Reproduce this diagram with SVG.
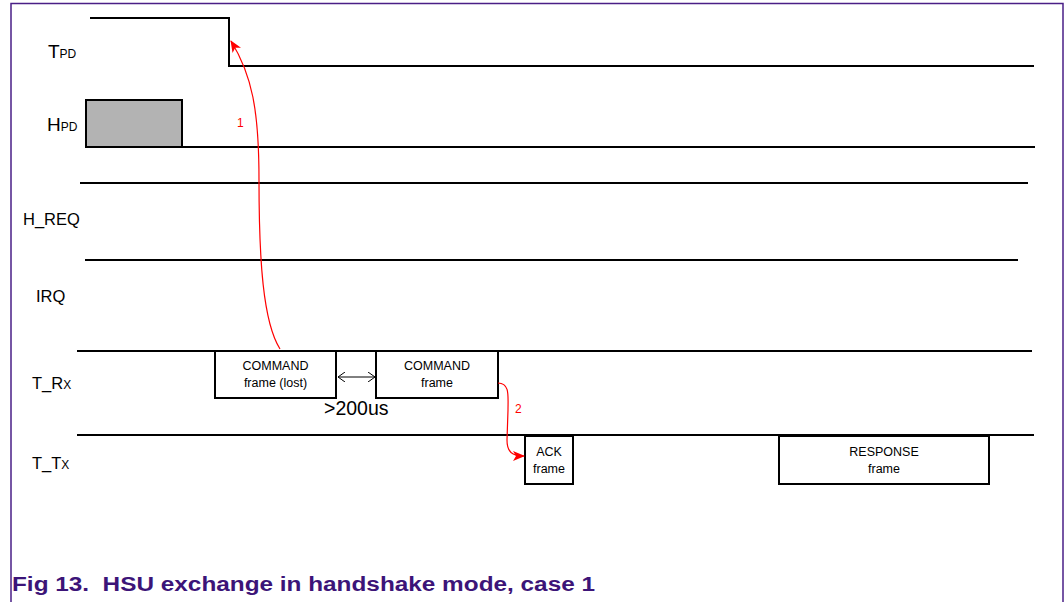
<svg xmlns="http://www.w3.org/2000/svg" width="1064" height="602" viewBox="0 0 1064 602">
<style>
.sig{stroke:#000;stroke-width:2;fill:none}
.box{stroke:#000;stroke-width:2;fill:#fff}
.lbl{font-family:"Liberation Sans",Arial,sans-serif;font-size:16.5px;fill:#000}
.small{font-size:12px}
.bt{font-family:"Liberation Sans",Arial,sans-serif;font-size:12.5px;fill:#000;text-anchor:middle}
.red{stroke:#f00;stroke-width:1.2;fill:none}
.rl{font-family:"Liberation Sans",Arial,sans-serif;font-size:12px;fill:#f00}
</style>
<defs>
<marker id="ra" markerWidth="12" markerHeight="10" refX="11" refY="5" orient="auto" markerUnits="userSpaceOnUse">
<path d="M0,0 L12,5 L0,10 L3,5 Z" fill="#f00"/>
</marker>
<marker id="oa" markerWidth="8" markerHeight="10" refX="7" refY="5" orient="auto" markerUnits="userSpaceOnUse">
<path d="M0,0 L7,5 L0,10" fill="none" stroke="#000" stroke-width="1"/>
</marker>
</defs>
<rect width="1064" height="602" fill="#fff"/>
<path d="M11,602 L11,3.5 L1063,3.5 L1063,602" fill="none" stroke="#4a1f86" stroke-width="1.5"/>

<g id="signals">
<path class="sig" d="M90,18 L229,18 L229,66 L1034,66"/>
<rect x="86" y="100" width="96" height="47" fill="#b3b3b3" stroke="#000" stroke-width="2"/>
<path class="sig" d="M86,147 L1035,147"/>
<path class="sig" d="M80,183 L1028,183"/>
<path class="sig" d="M85,260 L1018,260"/>
<path class="sig" d="M77,351 L1032,351"/>
<path class="sig" d="M77,435 L1034,435"/>
</g>

<g id="labels">
<text class="lbl" x="48" y="58"><tspan font-size="19">T</tspan><tspan class="small" font-size="13">PD</tspan></text>
<text class="lbl" x="47" y="131"><tspan font-size="19">H</tspan><tspan class="small" font-size="13">PD</tspan></text>
<text class="lbl" x="23" y="225">H_REQ</text>
<text class="lbl" x="36" y="302">IRQ</text>
<text class="lbl" x="32" y="389">T_R<tspan class="small">X</tspan></text>
<text class="lbl" x="32" y="469">T_T<tspan class="small">X</tspan></text>
</g>

<g id="cmd-lost">
<rect class="box" x="215" y="351" width="121" height="47"/>
<text class="bt" x="275.5" y="370">COMMAND</text>
<text class="bt" x="275.5" y="387">frame (lost)</text>
</g>
<g id="cmd">
<rect class="box" x="376" y="351" width="122" height="47"/>
<text class="bt" x="437" y="370">COMMAND</text>
<text class="bt" x="437" y="387">frame</text>
</g>
<g id="ack">
<rect class="box" x="525" y="436" width="48" height="48"/>
<text class="bt" x="549" y="456">ACK</text>
<text class="bt" x="549" y="473">frame</text>
</g>
<g id="response">
<rect class="box" x="779" y="436" width="210" height="48"/>
<text class="bt" x="884" y="456">RESPONSE</text>
<text class="bt" x="884" y="473">frame</text>
</g>

<g id="connectors">
<path d="M356,377 L338,377" fill="none" stroke="#000" stroke-width="1" marker-end="url(#oa)"/>
<path d="M356,377 L375,377" fill="none" stroke="#000" stroke-width="1" marker-end="url(#oa)"/>
<path class="red" d="M280,349 C263,322 259,260 259,180 C259,110 252,75 231,41" marker-end="url(#ra)"/>
<path class="red" d="M498,383 C510,383 508,396 508,410 L507,440 C507,452 512,456 524,456" marker-end="url(#ra)"/>
</g>

<text class="rl" x="237" y="127">1</text>
<text class="rl" x="515" y="413">2</text>
<text x="324" y="415" font-family="Liberation Sans,Arial,sans-serif" font-size="19.5" fill="#000">&gt;200us</text>

<text x="12" y="591" font-family="Liberation Sans,Arial,sans-serif" font-size="20" font-weight="bold" fill="#3c1478" textLength="583" lengthAdjust="spacingAndGlyphs" xml:space="preserve">Fig 13.  HSU exchange in handshake mode, case 1</text>
</svg>
